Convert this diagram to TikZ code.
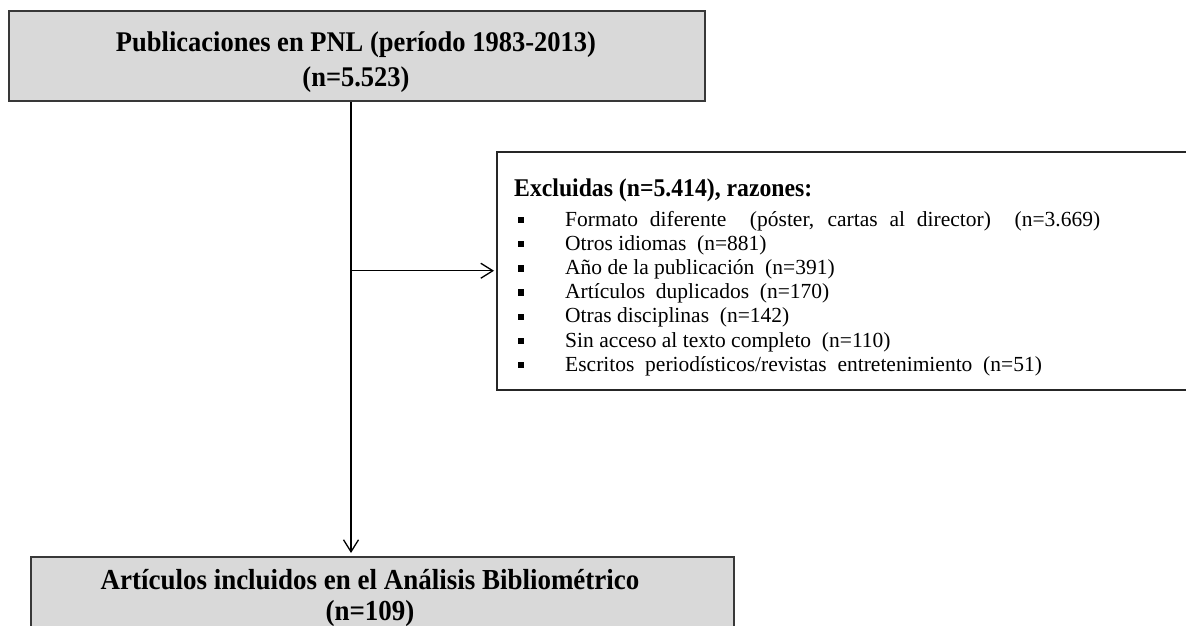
\documentclass[tikz,border=0pt]{standalone}
\usepackage{fontspec}
\setmainfont{Liberation Serif}
\newfontfamily\condserif[FakeStretch=0.93]{Liberation Serif}
\usetikzlibrary{arrows.meta}
\tikzset{
  graybox/.style={draw=black!78, line width=1.8pt, fill=black!15, inner sep=0pt},
  whitebox/.style={draw=black!85, line width=1.5pt, fill=white, inner sep=0pt},
  titletext/.style={font=\condserif\bfseries\fontsize{28.5}{32}\selectfont, inner sep=0pt, anchor=base},
  bottext/.style={font=\condserif\bfseries\fontsize{29}{32}\selectfont, inner sep=0pt, anchor=base},
  headtext/.style={font=\condserif\bfseries\fontsize{25.5}{28}\selectfont, inner sep=0pt, anchor=base west},
  itemtext/.style={font=\fontsize{21.5}{24}\selectfont, anchor=base west, inner sep=0pt},
  bullet/.style={fill=black, minimum size=6.5pt, inner sep=0pt},
  arr/.style={line width=1.3pt, -{Straight Barb[length=12pt,width=15pt,line width=1.3pt]}}
}
\begin{document}
\begin{tikzpicture}[x=1pt,y=-1pt]
\useasboundingbox (0,0) rectangle (1186,626);
\clip (0,0) rectangle (1186,626);
% boxes
\node[graybox, minimum width=696pt, minimum height=90pt, anchor=north west] (top) at (8,10) {};
\node[titletext] (top1) at (356,52) {Publicaciones en PNL (período 1983-2013)};
\node[titletext] (top2) at (356,86) {(n=5.523)};
\node[whitebox, minimum width=720pt, minimum height=238pt, anchor=north west] (excl) at (496,151) {};
\node[graybox, minimum width=703pt, minimum height=100pt, anchor=north west] (incl) at (30,556) {};
\node[bottext] (bot1) at (370,589) {Artículos incluidos en el Análisis Bibliométrico};
\node[bottext] (bot2) at (370,620) {(n=109)};
% exclusion text
\node[headtext] (head) at (514,196) {Excluidas (n=5.414), razones:};
\foreach \i/\t in {0/{\makebox[535pt][s]{Formato diferente\ \ (póster, cartas al director)\ \ (n=3.669)}},
                   1/{Otros idiomas\ \ (n=881)},
                   2/{Año de la publicación\ \ (n=391)},
                   3/{Artículos\ \ duplicados\ \ (n=170)},
                   4/{Otras disciplinas\ \ (n=142)},
                   5/{Sin acceso al texto completo\ \ (n=110)},
                   6/{Escritos\ \ periodísticos/revistas\ \ entretenimiento\ \ (n=51)}}{
  \node[bullet] (b\i) at (521,226-6+24.2*\i) {};
  \node[itemtext] (it\i) at (565,226+24.2*\i) {\t};
}
% connectors
\coordinate (vx) at (351,0);
\draw[arr, shorten >=3pt] (top.south -| vx) -- (incl.north -| vx);
\draw[arr, shorten >=2pt] (vx |- excl.west) -- (excl.west);
\end{tikzpicture}
\end{document}
